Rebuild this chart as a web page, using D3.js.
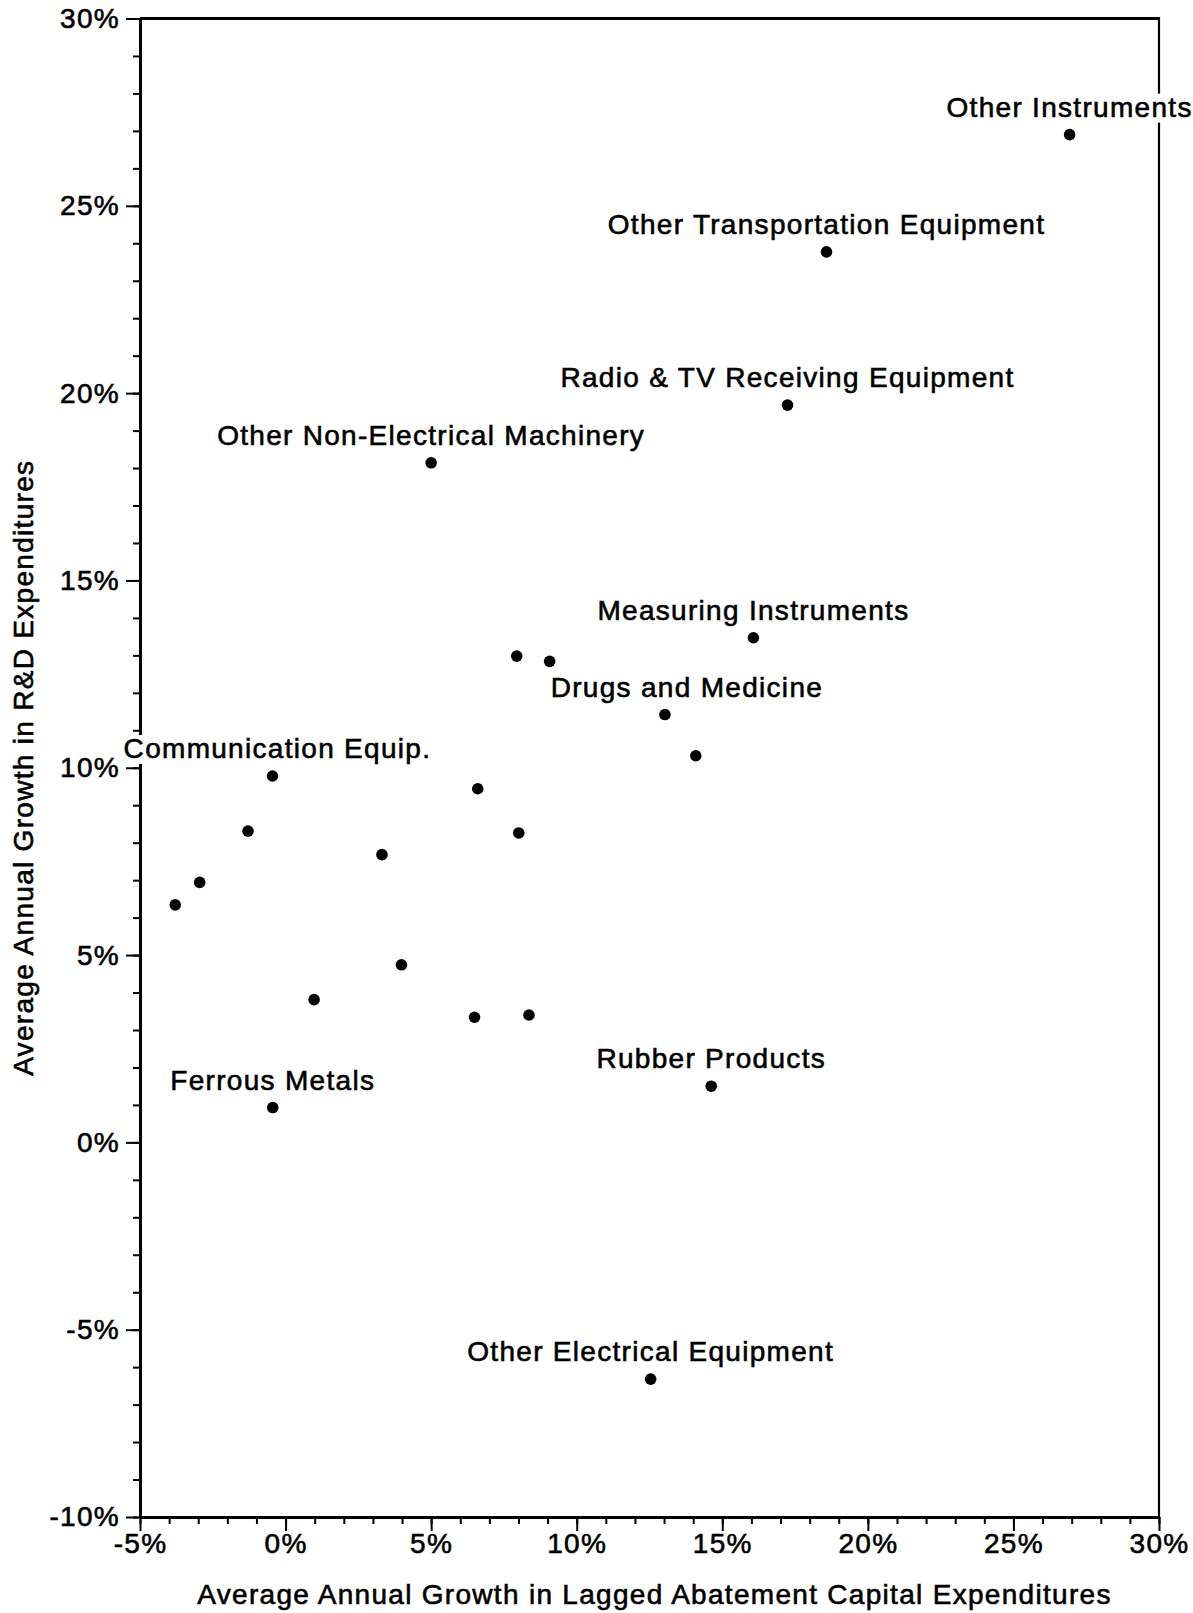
<!DOCTYPE html>
<html>
<head>
<meta charset="utf-8">
<script src="https://cdn.jsdelivr.net/npm/d3@7/dist/d3.min.js"></script>
<style>
  html, body { margin: 0; padding: 0; background: #fff; }
  svg { display: block; }
  text { font-family: "Liberation Sans", Arial, Helvetica, sans-serif; fill: #000; }
</style>
</head>
<body>
<svg id="chart" width="1193" height="1613"></svg>
<script>
// ---- DATA ----
const industries = [
  "Other Instruments", "Other Transportation Equipment", "Radio & TV Receiving Equipment",
  "Other Non-Electrical Machinery", "Measuring Instruments", "", "", "Drugs and Medicine", "",
  "Communication Equip.", "", "", "", "", "", "", "", "", "", "",
  "Rubber Products", "Ferrous Metals", "Other Electrical Equipment"
];
const abatementGrowth = [
  26.93, 18.58, 17.24, 5.00, 16.07, 7.94, 9.07, 13.03, 14.09,
  -0.45, 6.60, -1.29, 8.01, 3.31, -2.95, -3.79, 3.98, 0.98, 6.49, 8.36,
  14.62, -0.44, 12.54
];
const rdGrowth = [
  26.90, 23.77, 19.68, 18.14, 13.47, 12.98, 12.84, 11.42, 10.32,
  9.78, 9.44, 8.31, 8.26, 7.68, 6.94, 6.34, 4.74, 3.81, 3.34, 3.40,
  1.50, 0.93, -6.32
];
const xTicks = [-5, 0, 5, 10, 15, 20, 25, 30];
const yTicks = [-10, -5, 0, 5, 10, 15, 20, 25, 30];
const xTitle = "Average Annual Growth in Lagged Abatement Capital Expenditures";
const yTitle = "Average Annual Growth in R&D Expenditures";

// ---- LAYOUT ----
const labelNudge = { "Drugs and Medicine": 22, "Communication Equip.": 5 };
const FONT = 28, LS = "1.3px", SW = 0.6;

const svg = d3.select("#chart");
const x = d3.scaleLinear().domain([-5, 30]).range([140, 1159]);
const y = d3.scaleLinear().domain([-10, 30]).range([1517, 18.5]);

const points = abatementGrowth.map((v, i) => ({ x: v, y: rdGrowth[i], label: industries[i] }));

function styleText(sel) {
  return sel.attr("font-size", FONT).attr("letter-spacing", LS)
    .attr("font-family", "Liberation Sans, Arial, sans-serif").attr("fill", "#000")
    .attr("stroke", "#000").attr("stroke-width", SW);
}

// frame (top & right)
svg.append("line").attr("x1", x(-5)).attr("x2", x(30)).attr("y1", y(30)).attr("y2", y(30))
  .attr("stroke", "#000").attr("stroke-width", 3);
svg.append("line").attr("x1", x(30)).attr("x2", x(30)).attr("y1", y(30) - 1.5).attr("y2", y(-10))
  .attr("stroke", "#000").attr("stroke-width", 2.2);

// minor ticks
const minorX = d3.range(-5, 31, 1);
const minorY = d3.range(-10, 31, 1);
svg.append("g").attr("transform", `translate(0,${y(-10)})`)
  .call(d3.axisBottom(x).tickValues(minorX).tickSize(7).tickFormat(""))
  .call(g => g.select(".domain").remove())
  .call(g => g.selectAll("line").attr("stroke-width", 2));
svg.append("g").attr("transform", `translate(${x(-5)},0)`)
  .call(d3.axisLeft(y).tickValues(minorY).tickSize(7).tickFormat(""))
  .call(g => g.select(".domain").remove())
  .call(g => g.selectAll("line").attr("stroke-width", 2));

// major axes
const xAxis = svg.append("g").attr("transform", `translate(0,${y(-10)})`)
  .call(d3.axisBottom(x).tickValues(xTicks).tickSize(14).tickSizeOuter(0).tickPadding(2).tickFormat(d => d + "%"));
const yAxis = svg.append("g").attr("transform", `translate(${x(-5)},0)`)
  .call(d3.axisLeft(y).tickValues(yTicks).tickSize(14).tickSizeOuter(0).tickPadding(6).tickFormat(d => d + "%"));
[xAxis, yAxis].forEach(g => {
  g.select(".domain").attr("stroke-width", 3);
  g.selectAll(".tick line").attr("stroke-width", 2);
  styleText(g.selectAll("text"));
});

// labels with white background
const lab = svg.append("g");
points.filter(p => p.label).forEach(p => {
  const g = lab.append("g");
  const t = styleText(g.append("text"))
    .attr("x", x(p.x) + (labelNudge[p.label] || 0))
    .attr("y", y(p.y) - 18)
    .attr("text-anchor", "middle")
    .text(p.label);
  const bb = t.node().getBBox();
  g.insert("rect", "text").attr("x", bb.x - 2).attr("y", bb.y + 2)
    .attr("width", bb.width + 4).attr("height", bb.height - 2).attr("fill", "#fff");
});

// points
svg.append("g").selectAll("circle").data(points).join("circle")
  .attr("cx", d => x(d.x)).attr("cy", d => y(d.y)).attr("r", 5.8).attr("fill", "#000");

// titles
styleText(svg.append("text")).attr("x", (x(-5) + x(30)) / 2 + 5).attr("y", 1604)
  .attr("text-anchor", "middle").text(xTitle);
styleText(svg.append("text")).attr("transform", `translate(33,${(y(30) + y(-10)) / 2}) rotate(-90)`)
  .attr("text-anchor", "middle").text(yTitle);
</script>
</body>
</html>
